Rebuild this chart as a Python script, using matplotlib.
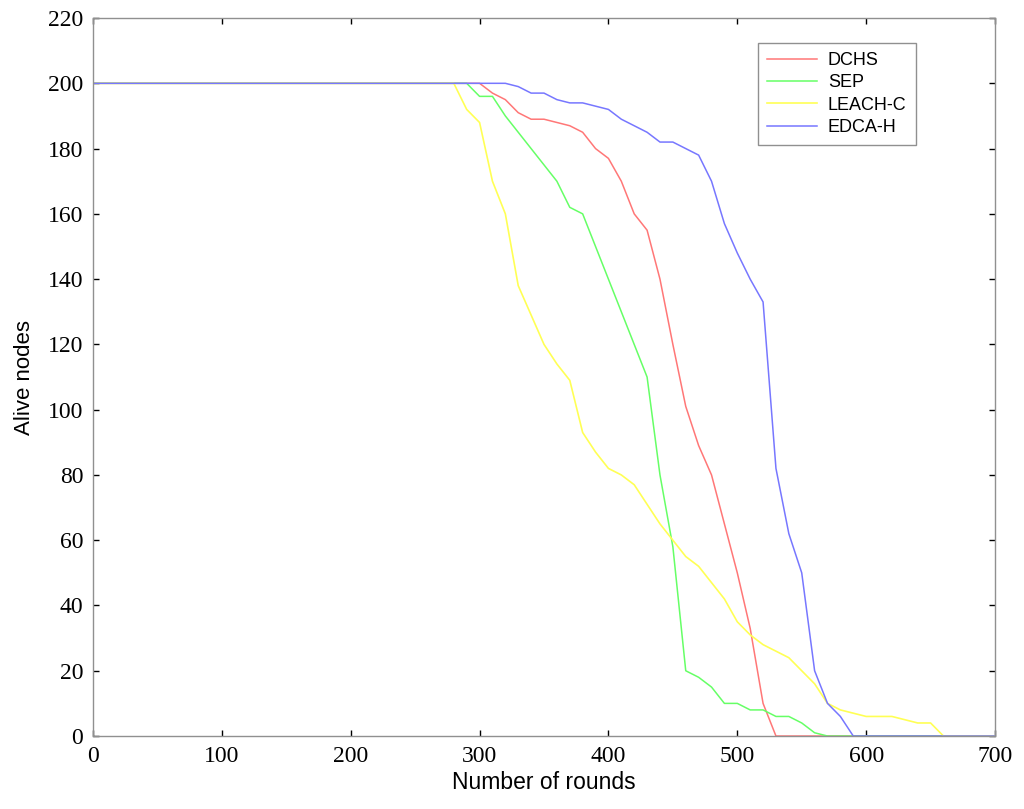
import matplotlib
matplotlib.use("Agg")
from matplotlib import pyplot as plt

# rounds / alive nodes (points where the curve bends)
dchs_x = [0, 300, 310, 320, 330, 340, 350, 360, 370, 380, 390, 400, 410, 420, 430,
          440, 450, 460, 470, 480, 490, 500, 510, 520, 530, 700]
dchs_y = [200, 200, 197, 195, 191, 189, 189, 188, 187, 185, 180, 177, 170, 160, 155,
          140, 120, 101, 89, 80, 65, 50, 33, 10, 0, 0]

sep_x = [0, 290, 300, 310, 320, 330, 340, 350, 360, 370, 380, 390, 400, 410, 420,
         430, 440, 450, 460, 470, 480, 490, 500, 510, 520, 530, 540, 550, 560, 570, 700]
sep_y = [200, 200, 196, 196, 190, 185, 180, 175, 170, 162, 160, 150, 140, 130, 120,
         110, 80, 58, 20, 18, 15, 10, 10, 8, 8, 6, 6, 4, 1, 0, 0]

leach_x = [0, 280, 290, 300, 310, 320, 330, 340, 350, 360, 370, 380, 390, 400, 410,
           420, 430, 440, 450, 460, 470, 480, 490, 500, 510, 520, 530, 540, 550, 560,
           570, 580, 590, 600, 610, 620, 630, 640, 650, 660, 700]
leach_y = [200, 200, 192, 188, 170, 160, 138, 129, 120, 114, 109, 93, 87, 82, 80,
           77, 71, 65, 60, 55, 52, 47, 42, 35, 31, 28, 26, 24, 20, 16,
           10, 8, 7, 6, 6, 6, 5, 4, 4, 0, 0]

edca_x = [0, 320, 330, 340, 350, 360, 370, 380, 390, 400, 410, 420, 430, 440, 450,
          460, 470, 480, 490, 500, 510, 520, 530, 540, 550, 560, 570, 580, 590, 700]
edca_y = [200, 200, 199, 197, 197, 195, 194, 194, 193, 192, 189, 187, 185, 182, 182,
          180, 178, 170, 157, 148, 140, 133, 82, 62, 50, 20, 10, 6, 0, 0]

xticks = list(range(0, 701, 100))
yticks = list(range(0, 221, 20))

fig = plt.figure(figsize=(10.24, 8.09), dpi=100)
ax = fig.add_axes([0.0908, 0.0902, 0.8809, 0.8875])

ax.plot(dchs_x, dchs_y, color='#ff7777', lw=1.1, label='DCHS')
ax.plot(sep_x, sep_y, color='#66ff66', lw=1.1, label='SEP')
ax.plot(leach_x, leach_y, color='#ffff55', lw=1.2, label='LEACH-C')
ax.plot(edca_x, edca_y, color='#7777ff', lw=1.1, label='EDCA-H')

ax.set_xlim(0, 700)
ax.set_ylim(0, 220)
ax.set_xticks(xticks)
ax.set_yticks(yticks)
ax.tick_params(direction='in', length=4, width=1, color='black',
               top=True, right=True, labelsize=17, pad=7)
for lab in ax.get_xticklabels() + ax.get_yticklabels():
    lab.set_fontfamily('Liberation Serif')
for s in ax.spines.values():
    s.set_color('#909090')
    s.set_linewidth(1)

ax.set_xlabel('Number of rounds', fontsize=16.5, family='Liberation Sans', labelpad=3)
ax.set_ylabel('Alive nodes', fontsize=16, family='Liberation Sans', labelpad=9)

leg = ax.legend(loc='upper right', bbox_to_anchor=(0.922, 0.978),
                prop={'family': 'Liberation Sans', 'size': 13},
                fancybox=False, framealpha=1, edgecolor='#909090',
                handlelength=2.8, handletextpad=0.6,
                labelspacing=0.3, borderpad=0.5)
leg.get_frame().set_linewidth(1)

fig.savefig('out.png', dpi=100, facecolor='white')
